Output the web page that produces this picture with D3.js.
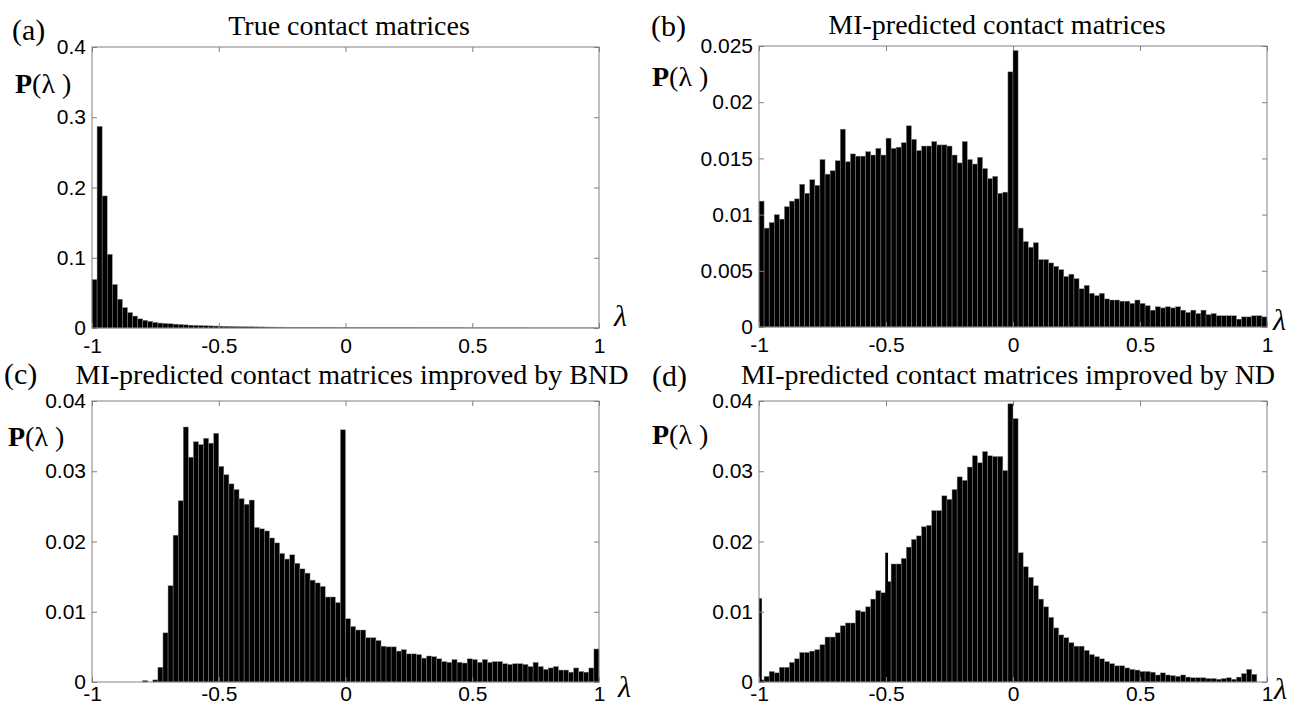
<!DOCTYPE html>
<html>
<head>
<meta charset="utf-8">
<script src="https://cdn.jsdelivr.net/npm/d3@7"></script>
<style>
  html, body { margin: 0; padding: 0; background: #fff; }
  svg { display: block; }
  .tick text { font-family: "Liberation Sans", Arial, sans-serif; font-size: 21px; fill: #000; }
  .serif { font-family: "Liberation Serif", "Times New Roman", serif; fill: #000; }
</style>
</head>
<body>
<svg id="chart" width="1291" height="705"></svg>
<script>
// ---------------- data ----------------
const lambdaTicks = [-1, -0.5, 0, 0.5, 1];
const lambdaTickLabels = ["-1", "-0.5", "0", "0.5", "1"];
const binCount = 100;            // histogram bins over [-1, 1]

const yTicksA = [0, 0.1, 0.2, 0.3, 0.4];
const yTicksB = [0, 0.005, 0.01, 0.015, 0.02, 0.025];
const yTicksC = [0, 0.01, 0.02, 0.03, 0.04];
const yTicksD = [0, 0.01, 0.02, 0.03, 0.04];

const titles = [
  "True contact matrices",
  "MI-predicted contact matrices",
  "MI-predicted contact matrices improved by BND",
  "MI-predicted contact matrices improved by ND"
];
const panelTags = ["(a)", "(b)", "(c)", "(d)"];

// (a) true contact matrices
const trueVals = [
  0.069,0.287,0.188,0.105,0.062,0.041,0.029,0.022,0.017,0.013,
  0.011,0.0095,0.008,0.007,0.0065,0.006,0.0055,0.005,0.0045,0.004,
  0.0038,0.0035,0.0032,0.003,0.0028,0.0026,0.0024,0.0022,0.002,0.0019,
  0.0018,0.0017,0.0016,0.0015,0.0014,0.0013,0.0012,0.0012,0.0011,0.0011,
  0.001,0.001,0.0009,0.0009,0.0009,0.0008,0.0008,0.0008,0.0007,0.0007,
  0.0007,0.0007,0.0006,0.0006,0.0006,0.0006,0.0006,0.0005,0.0005,0.0005,
  0.0005,0.0005,0.0005,0.0005,0.0004,0.0004,0.0004,0.0004,0.0004,0.0004,
  0.0004,0.0004,0.0004,0.0003,0.0003,0.0003,0.0003,0.0003,0.0003,0.0003,
  0.0003,0.0003,0.0003,0.0003,0.0003,0.0003,0.0002,0.0002,0.0002,0.0002,
  0.0002,0.0002,0.0002,0.0002,0.0002,0.0002,0.0002,0.0002,0.0002,0.0002
];

// (b) MI-predicted
const miVals = [
  0.0112,0.0088,0.0093,0.0100,0.0096,0.0107,0.0112,0.0114,0.0127,0.0119,
  0.0131,0.0126,0.0149,0.0136,0.0139,0.0148,0.0176,0.0147,0.0154,0.0152,
  0.0152,0.0156,0.0153,0.0159,0.0153,0.0168,0.0159,0.0160,0.0164,0.0179,
  0.0167,0.0157,0.0161,0.0161,0.0165,0.0162,0.0162,0.0161,0.0153,0.0146,
  0.0165,0.0149,0.0145,0.0151,0.0141,0.0132,0.0134,0.0119,0.0120,0.0227,
  0.0246,0.0088,0.0076,0.0071,0.0075,0.0060,0.0060,0.0057,0.0054,0.0051,
  0.0045,0.0047,0.0043,0.0034,0.0037,0.0030,0.0028,0.0030,0.0025,0.0024,
  0.0024,0.0023,0.0023,0.0021,0.0024,0.0021,0.0019,0.0015,0.0018,0.0017,
  0.0018,0.0017,0.0018,0.0015,0.0013,0.0015,0.0012,0.0015,0.0011,0.0012,
  0.0010,0.0010,0.0010,0.0010,0.0007,0.0009,0.0009,0.0010,0.0010,0.0009
];

// (c) improved by BND
const bndVals = [
  0,0,0,0,0,0,0,0,0,0,
  0.0002,0,0.0003,0.0021,0.0070,0.0137,0.0209,0.0258,0.0363,0.0320,
  0.0342,0.0338,0.0347,0.0340,0.0354,0.0307,0.0295,0.0282,0.0274,0.0261,
  0.0253,0.0259,0.0220,0.0218,0.0215,0.0205,0.0198,0.0183,0.0175,0.0181,
  0.0169,0.0161,0.0155,0.0145,0.0141,0.0136,0.0121,0.0121,0.0113,0.0359,
  0.0090,0.0079,0.0074,0.0074,0.0063,0.0063,0.0059,0.0051,0.0050,0.0050,
  0.0044,0.0046,0.0040,0.0040,0.0039,0.0034,0.0037,0.0036,0.0033,0.0029,
  0.0028,0.0032,0.0028,0.0027,0.0033,0.0032,0.0028,0.0032,0.0028,0.0029,
  0.0029,0.0026,0.0025,0.0026,0.0026,0.0025,0.0022,0.0028,0.0022,0.0018,
  0.0020,0.0022,0.0017,0.0017,0.0014,0.0020,0.0015,0.0014,0.0020,0.0047
];

// (d) improved by ND
const ndVals = [
  0.0003,0.0008,0.0015,0.0013,0.0021,0.0021,0.0028,0.0033,0.0042,0.0042,
  0.0044,0.0046,0.0053,0.0064,0.0064,0.0070,0.0080,0.0084,0.0084,0.0102,
  0.0100,0.0107,0.0118,0.0130,0.0127,0.0143,0.0168,0.0168,0.0176,0.0192,
  0.0203,0.0208,0.0221,0.0223,0.0244,0.0244,0.0265,0.0260,0.0274,0.0292,
  0.0287,0.0306,0.0322,0.0312,0.0328,0.0322,0.0321,0.0321,0.0301,0.0396,
  0.0375,0.0184,0.0164,0.0149,0.0137,0.0118,0.0107,0.0092,0.0077,0.0067,
  0.0063,0.0056,0.0051,0.0051,0.0045,0.0039,0.0036,0.0033,0.0029,0.0026,
  0.0023,0.0023,0.0020,0.0018,0.0017,0.0015,0.0015,0.0014,0.0010,0.0013,
  0.0010,0.0009,0.0008,0.0010,0.0007,0.0006,0.0006,0.0006,0.0005,0.0005,
  0.0004,0.0005,0.0006,0.0004,0.0007,0.0012,0.0018,0.0011,0,0
];
// narrow spikes in (d): [lambda, value]
const ndSpikeLambda = [-1.0, -0.503];
const ndSpikeVals = [0.0119, 0.0184];

// ---------------- layout ----------------
const layout = [
  { box: [92, 599, 47, 328], tag: [12, 40], title: [349, 35], pl: [15, 93], lam: [614, 326], xpad: 10 },
  { box: [759, 1267, 46, 327], tag: [651, 36], title: [997, 34], pl: [652, 86], lam: [1273, 330], xpad: 10 },
  { box: [92, 599, 401, 682], tag: [4, 384], title: [352, 384], pl: [8, 446], lam: [618, 697], xpad: 4 },
  { box: [759, 1267, 401, 682], tag: [652, 386], title: [1008, 384], pl: [652, 444], lam: [1274, 699], xpad: 4 }
];
const series = [trueVals, miVals, bndVals, ndVals];
const yTickSets = [yTicksA, yTicksB, yTicksC, yTicksD];
const spikeSets = [[], [], [], ndSpikeLambda.map((l, i) => [l, ndSpikeVals[i]])];

const svg = d3.select("#chart");
const fmtY = v => (v === 0 ? "0" : String(+v.toFixed(4)));
const binW = 2 / binCount;

layout.forEach((L, p) => {
  const [x0, x1, yTop, yBot] = L.box;
  const yT = yTickSets[p];
  const x = d3.scaleLinear().domain([-1, 1]).range([x0, x1]);
  const y = d3.scaleLinear().domain([0, yT[yT.length - 1]]).range([yBot, yTop]);
  const g = svg.append("g");

  // bars
  const vals = series[p];
  g.append("g").selectAll("rect").data(vals).join("rect")
    .attr("x", (d, i) => x(-1 + i * binW))
    .attr("width", (d, i) => x(-1 + (i + 1) * binW) - x(-1 + i * binW))
    .attr("y", d => y(d))
    .attr("height", d => Math.max(0, y(0) - y(d)))
    .attr("fill", "#000")
    .attr("stroke", "#8a8a8a")
    .attr("stroke-width", 0.45);

  // spikes
  g.append("g").selectAll("rect").data(spikeSets[p]).join("rect")
    .attr("x", d => x(d[0]))
    .attr("width", x(-1 + 0.011) - x(-1))
    .attr("y", d => y(d[1]))
    .attr("height", d => y(0) - y(d[1]))
    .attr("fill", "#000");

  // axes (ticks inward)
  const xb = g.append("g").attr("transform", `translate(0,${yBot})`)
    .call(d3.axisBottom(x).tickValues(lambdaTicks).tickFormat((d, i) => lambdaTickLabels[i])
      .tickSizeInner(-5).tickSizeOuter(0).tickPadding(L.xpad));
  const xt = g.append("g").attr("transform", `translate(0,${yTop})`)
    .call(d3.axisTop(x).tickValues(lambdaTicks).tickFormat("").tickSizeInner(-5).tickSizeOuter(0));
  const yl = g.append("g").attr("transform", `translate(${x0},0)`)
    .call(d3.axisLeft(y).tickValues(yT).tickFormat(fmtY).tickSizeInner(-5).tickSizeOuter(0).tickPadding(6));
  const yr = g.append("g").attr("transform", `translate(${x1},0)`)
    .call(d3.axisRight(y).tickValues(yT).tickFormat("").tickSizeInner(-5).tickSizeOuter(0));
  [xb, xt, yl, yr].forEach(a => {
    a.select(".domain").remove();
    a.selectAll(".tick line").attr("stroke", "#808080");
  });

  // frame
  g.append("rect").attr("x", x0).attr("y", yTop)
    .attr("width", x1 - x0).attr("height", yBot - yTop)
    .attr("fill", "none").attr("stroke", "#808080").attr("stroke-width", 1);

  // texts
  g.append("text").attr("class", "serif").attr("x", L.tag[0]).attr("y", L.tag[1])
    .attr("font-size", 30).text(panelTags[p]);
  g.append("text").attr("class", "serif").attr("x", L.title[0]).attr("y", L.title[1])
    .attr("text-anchor", "middle").attr("font-size", 28).text(titles[p]);
  const pl = g.append("text").attr("class", "serif").attr("x", L.pl[0]).attr("y", L.pl[1])
    .attr("font-size", 28);
  pl.append("tspan").attr("font-weight", "bold").text("P");
  pl.append("tspan").text("(λ )");
  g.append("text").attr("class", "serif").attr("x", L.lam[0]).attr("y", L.lam[1])
    .attr("font-size", 30).attr("font-style", "italic").text("λ");
});
</script>
</body>
</html>
